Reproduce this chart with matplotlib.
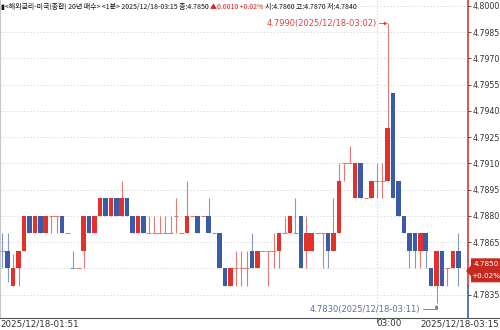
import matplotlib
matplotlib.use('Agg')
import matplotlib.pyplot as plt
from matplotlib.patches import Polygon
from matplotlib.lines import Line2D
from matplotlib.transforms import blended_transform_factory, IdentityTransform
import numpy as np

# ---------------- data (1-minute candles, 01:51 .. 03:15) ----------------
opens = [4.7860, 4.7860, 4.7840, 4.7850, 4.7860, 4.7880, 4.7870, 4.7880, 4.7870, 4.7880,
         4.7880, 4.7880, 4.7870, 4.7850, 4.7850, 4.7860, 4.7880, 4.7870, 4.7880, 4.7890,
         4.7880, 4.7890, 4.7880, 4.7890, 4.7880, 4.7870, 4.7880, 4.7870, 4.7870, 4.7870,
         4.7870, 4.7870, 4.7880, 4.7870, 4.7870, 4.7880, 4.7880, 4.7880, 4.7880, 4.7870,
         4.7870, 4.7850, 4.7840, 4.7850, 4.7850, 4.7850, 4.7860, 4.7850, 4.7860, 4.7860,
         4.7860, 4.7860, 4.7870, 4.7870, 4.7870, 4.7880, 4.7860, 4.7860, 4.7870, 4.7870,
         4.7870, 4.7860, 4.7870, 4.7910, 4.7910, 4.7890, 4.7910, 4.7890, 4.7890, 4.7900,
         4.7900, 4.7900, 4.7950, 4.7900, 4.7880, 4.7870, 4.7870, 4.7860, 4.7870, 4.7850,
         4.7840, 4.7860, 4.7850, 4.7850, 4.7860]
highs = [4.7870, 4.7870, 4.7858, 4.7860, 4.7880, 4.7880, 4.7880, 4.7880, 4.7880, 4.7880,
         4.7880, 4.7880, 4.7870, 4.7860, 4.7850, 4.7880, 4.7880, 4.7880, 4.7890, 4.7890,
         4.7890, 4.7890, 4.7900, 4.7890, 4.7880, 4.7880, 4.7880, 4.7880, 4.7880, 4.7880,
         4.7880, 4.7880, 4.7890, 4.7870, 4.7900, 4.7880, 4.7880, 4.7880, 4.7890, 4.7870,
         4.7870, 4.7850, 4.7850, 4.7860, 4.7860, 4.7860, 4.7870, 4.7860, 4.7860, 4.7860,
         4.7870, 4.7870, 4.7880, 4.7880, 4.7890, 4.7880, 4.7880, 4.7870, 4.7870, 4.7870,
         4.7870, 4.7890, 4.7910, 4.7910, 4.7920, 4.7910, 4.7910, 4.7890, 4.7900, 4.7910,
         4.7910, 4.7990, 4.7950, 4.7900, 4.7880, 4.7870, 4.7870, 4.7870, 4.7870, 4.7850,
         4.7860, 4.7860, 4.7850, 4.7860, 4.7870]
lows = [4.7850, 4.7842, 4.7840, 4.7840, 4.7860, 4.7870, 4.7870, 4.7870, 4.7870, 4.7870,
        4.7870, 4.7870, 4.7870, 4.7850, 4.7850, 4.7850, 4.7870, 4.7870, 4.7880, 4.7880,
        4.7880, 4.7880, 4.7880, 4.7880, 4.7870, 4.7870, 4.7870, 4.7870, 4.7870, 4.7870,
        4.7870, 4.7870, 4.7870, 4.7870, 4.7870, 4.7880, 4.7870, 4.7880, 4.7870, 4.7870,
        4.7850, 4.7840, 4.7840, 4.7840, 4.7840, 4.7840, 4.7850, 4.7850, 4.7860, 4.7840,
        4.7850, 4.7850, 4.7870, 4.7870, 4.7870, 4.7850, 4.7850, 4.7860, 4.7870, 4.7850,
        4.7850, 4.7860, 4.7870, 4.7900, 4.7910, 4.7890, 4.7890, 4.7890, 4.7890, 4.7890,
        4.7890, 4.7900, 4.7890, 4.7880, 4.7870, 4.7850, 4.7850, 4.7850, 4.7850, 4.7840,
        4.7830, 4.7840, 4.7840, 4.7850, 4.7840]
closes = [4.7860, 4.7850, 4.7850, 4.7860, 4.7880, 4.7870, 4.7880, 4.7870, 4.7880, 4.7880,
          4.7880, 4.7870, 4.7870, 4.7850, 4.7850, 4.7880, 4.7870, 4.7880, 4.7890, 4.7880,
          4.7890, 4.7880, 4.7890, 4.7880, 4.7870, 4.7880, 4.7870, 4.7870, 4.7870, 4.7870,
          4.7870, 4.7870, 4.7880, 4.7870, 4.7880, 4.7880, 4.7870, 4.7880, 4.7870, 4.7870,
          4.7850, 4.7840, 4.7850, 4.7850, 4.7850, 4.7850, 4.7850, 4.7860, 4.7860, 4.7860,
          4.7860, 4.7870, 4.7870, 4.7880, 4.7870, 4.7850, 4.7870, 4.7870, 4.7870, 4.7870,
          4.7860, 4.7870, 4.7900, 4.7910, 4.7910, 4.7910, 4.7890, 4.7890, 4.7900, 4.7900,
          4.7900, 4.7930, 4.7890, 4.7880, 4.7870, 4.7860, 4.7860, 4.7870, 4.7860, 4.7840,
          4.7860, 4.7840, 4.7850, 4.7860, 4.7850]
first_prev_close = 4.7870
prev_day_close = 4.7840
change_text = ['4.7850', '+0.02%']

y_ticks = [4.7835, 4.7850, 4.7865, 4.7880, 4.7895, 4.7910, 4.7925, 4.7940,
           4.7955, 4.7970, 4.7985, 4.8000]
x_tick_idx = [0, 69, 84]
x_tick_labels = ['2025/12/18-01:51', '03:00', '2025/12/18-03:15']
hi_label = '4.7990(2025/12/18-03:02)'
lo_label = '4.7830(2025/12/18-03:11)'
title_parts = [('▮<해외금리-미국(종합) 20년 매수> <1분> 2025/12/18-03:15 종:4.7850 ', '#111111'),
               ('▲0.0010 +0.02% ', '#d8241c'),
               ('시:4.7860 고:4.7870 저:4.7840', '#111111')]

# ---------------- styling ----------------
W, H = 500, 330
RED, BLUE = '#e3302a', '#3a5ca8'
RED_W, BLUE_W = '#e07a74', '#8499c6'
NARROW = ['Liberation Sans Narrow', 'DejaVu Sans']
CJK = ['Noto Sans CJK KR', 'DejaVu Sans']

fig = plt.figure(figsize=(W / 100, H / 100), dpi=100)
fig.patch.set_facecolor('white')
ax = fig.add_axes([0, 12 / H, 468 / W, 318 / H])
ax.set_xlim(-0.42, 85.8)
ax.set_ylim(4.78216, 4.80034)

n = len(closes)
for i in range(n):
    o, h, l, c = opens[i], highs[i], lows[i], closes[i]
    pc = closes[i - 1] if i > 0 else first_prev_close
    if c > o:
        col, wc = RED, RED_W
    elif c < o:
        col, wc = BLUE, BLUE_W
    else:
        col, wc = (RED, RED_W) if c >= pc else (BLUE, BLUE_W)
    ax.vlines(i, l, h, color=wc, lw=0.8, zorder=2)
    if c != o:
        ax.bar(i, abs(c - o), bottom=min(o, c), width=0.84, color=col,
               linewidth=0, zorder=3)
    else:
        ax.hlines(c, i - 0.45, i + 0.45, color=wc, lw=0.8, zorder=3)

# grid
for yt in y_ticks:
    ax.axhline(yt, color='#cfcfcf', lw=0.6, ls=(0, (1.5, 2.5)), zorder=1)
ax.axvline(x_tick_idx[1], color='#cfcfcf', lw=0.6, ls=(0, (1.5, 2.5)), zorder=1)

# axes styling
for s in ['top', 'right', 'bottom']:
    ax.spines[s].set_visible(False)
ax.spines['left'].set_color('#c8c8c8')
ax.spines['left'].set_linewidth(0.8)
ax.set_xticks([])
ax.yaxis.tick_right()
ax.set_yticks(y_ticks)
# the label at the last price level is hidden behind the price box in the reference
ax.set_yticklabels(['' if abs(v - closes[-1]) < 1e-9 else f'{v:.4f}' for v in y_ticks])
ax.tick_params(axis='y', length=2, pad=1.5, labelsize=5.7, colors='#333333',
               width=0.6)
for lbl in ax.get_yticklabels():
    lbl.set_family(NARROW)

# right spine coloured by previous close
trans = blended_transform_factory(ax.transAxes, ax.transData)
y0, y1 = ax.get_ylim()
ax.plot([1, 1], [prev_day_close, y1], transform=trans, color='#d8241c', lw=1.1,
        clip_on=False, zorder=5)
ax.plot([1, 1], [y0, prev_day_close], transform=trans, color='#2c4f9e', lw=1.1,
        clip_on=False, zorder=5)

# high / low annotations
imax = int(np.argmax(highs))
imin = int(np.argmin(lows))
ax.annotate(hi_label, xy=(imax, highs[imax]), xytext=(-11, 0), textcoords='offset pixels',
            ha='right', va='center', color='#d9453c', fontsize=6, family=NARROW,
            arrowprops=dict(arrowstyle='-|>,head_length=0.3,head_width=0.15',
                            color='#d9453c', lw=0.6, shrinkA=0, shrinkB=0,
                            relpos=(1, 0.5)), zorder=6)
ax.annotate(lo_label, xy=(imin, lows[imin]), xytext=(-16, -6), textcoords='offset pixels',
            ha='right', va='center', color='#5b6fa6', fontsize=6, family=NARROW,
            arrowprops=dict(arrowstyle='-|>,head_length=0.3,head_width=0.15',
                            color='#5b6fa6', lw=0.6, shrinkA=0, shrinkB=1,
                            relpos=(1, 0.5),
                            connectionstyle='angle,angleA=0,angleB=90,rad=0'),
            zorder=6, annotation_clip=False)

# bottom axis line and x labels
fig.add_artist(Line2D([0, 1], [12 / H, 12 / H], color='#555555', lw=0.8))
for k, (xi, lab) in enumerate(zip(x_tick_idx, x_tick_labels)):
    px = ax.transData.transform((xi, y0))[0]
    if k == 0:
        fig.text(0.5 / W, 6 / H, lab, ha='left', va='center', fontsize=6.3,
                 family=NARROW, color='#333333')
    elif k == len(x_tick_idx) - 1:
        fig.text(499 / W, 6 / H, lab, ha='right', va='center', fontsize=6.3,
                 family=NARROW, color='#333333')
    else:
        fig.text(px / W, 6 / H, lab, ha='left', va='center', fontsize=6.3,
                 family=NARROW, color='#333333')
        fig.add_artist(Line2D([px / W, px / W], [8 / H, 12 / H], color='#555555', lw=0.6))

# last price box
yd = ax.transData.transform((0, closes[-1]))[1]
pts = [(466, yd - 2.5), (471, yd + 3), (471, yd + 10), (500, yd + 10),
       (500, yd - 14), (471, yd - 14), (471, yd - 8)]
fig.add_artist(Polygon(pts, closed=True, transform=IdentityTransform(),
                       facecolor='#c42a20', edgecolor='none', zorder=7))
fig.text(486 / W, (yd + 4) / H, change_text[0], ha='center', va='center',
         fontsize=5.2, family=NARROW, color='white', zorder=8)
fig.text(486 / W, (yd - 7.5) / H, change_text[1], ha='center', va='center',
         fontsize=5.2, family=NARROW, color='white', zorder=8)

# title pieces
fig.canvas.draw()
renderer = fig.canvas.get_renderer()
xpos = 1.0
for txt, col in title_parts:
    t = fig.text(xpos / W, 1 - 7 / H, txt, ha='left', va='center', fontsize=5.0,
                 family=CJK, color=col, zorder=8)
    bb = t.get_window_extent(renderer)
    xpos = bb.x1

fig.savefig('out.png', dpi=100, facecolor='white')
